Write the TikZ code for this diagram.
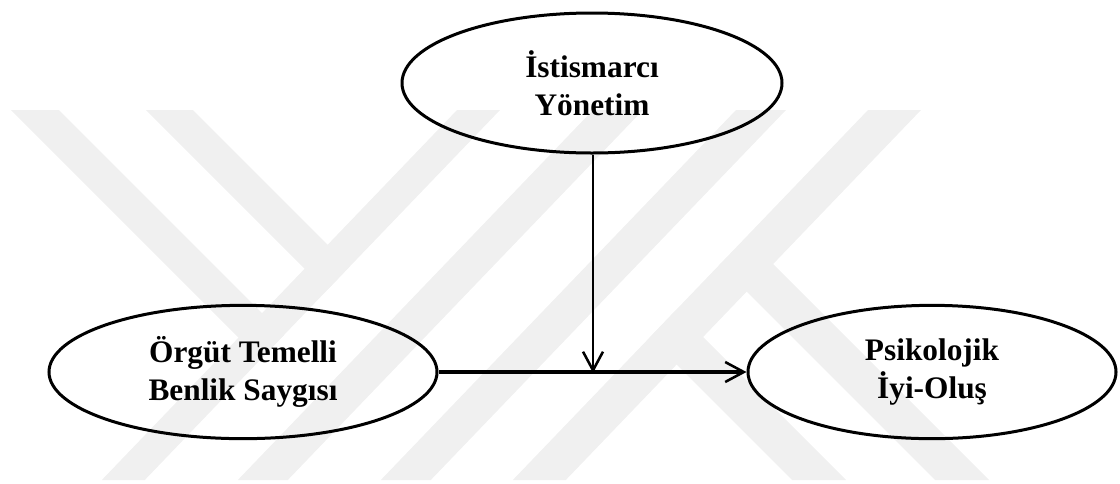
\documentclass[tikz,border=0pt]{standalone}
\usepackage{fontspec}
\setmainfont{Liberation Serif}
\usetikzlibrary{shapes.geometric,arrows.meta}
\begin{document}
\begin{tikzpicture}[x=0.75pt,y=-0.75pt,
  ell/.style={ellipse,draw=black,line width=2.25pt,inner sep=0pt,align=center,
    font=\fontsize{23.5}{28.5}\selectfont\bfseries},
  wm/.style={fill=black!6,draw=none},
  barb/.style={-{Straight Barb[length=14pt,width=15pt,line width=1.9pt]}}]
\useasboundingbox (0,0) rectangle (1120,483);
% watermark
\fill[wm] (457,110) -- (500,110) -- (144.8,480) -- (101.8,480) -- cycle;
\fill[wm] (593,110) -- (643,110) -- (287.8,480) -- (237.8,480) -- cycle;
\fill[wm] (736,110) -- (786,110) -- (430.8,480) -- (380.8,480) -- cycle;
\fill[wm] (868,110) -- (921,110) -- (565.8,480) -- (512.8,480) -- cycle;
\fill[wm] (11,110) -- (59,110) -- (284,335) -- (260.5,359.5) -- cycle;
\fill[wm] (146,110) -- (193,110) -- (349.6,266.6) -- (326.6,290.6) -- cycle;
\fill[wm] (719.6,264.6) -- (747.1,238.1) -- (989,480) -- (935,480) -- cycle;
\fill[wm] (649.6,337.6) -- (676,310) -- (846,480) -- (792,480) -- cycle;
% nodes
\node[ell,minimum width=285pt,minimum height=105pt] (ist) at (592,83) {İstismarcı\\Yönetim};
\node[ell,minimum width=291pt,minimum height=100pt] (org) at (243,372) {Örgüt Temelli\\Benlik Saygısı};
\node[ell,minimum width=276pt,minimum height=100pt] (psi) at (932,372) {Psikolojik\\İyi-Oluş};
\coordinate (mid) at (593,373);
% connectors
\draw[barb,line width=2.5pt] (org.east) -- (psi.west);
\draw[barb,line width=1.9pt] (ist.south -| mid) -- (mid);
\end{tikzpicture}
\end{document}
